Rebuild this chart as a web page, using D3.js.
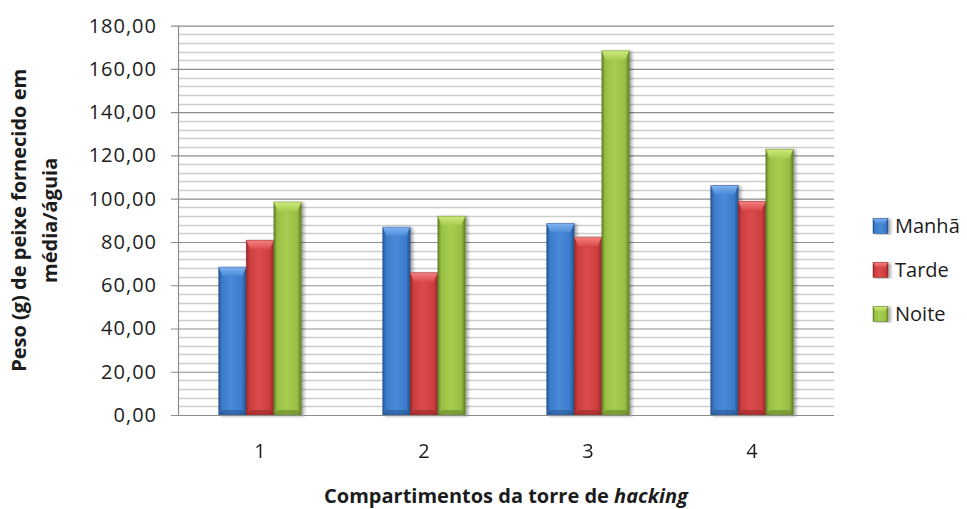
<!DOCTYPE html>
<html><head><meta charset="utf-8">
<script src="https://cdn.jsdelivr.net/npm/d3@7/dist/d3.min.js"></script>
<style>
body{margin:0;background:#fff}
svg{display:block}
text{font-family:"Open Sans",sans-serif;fill:#1c1c1c}
</style>
</head><body>
<svg id="c" width="967" height="509"></svg>
<script>
const categories = ["1", "2", "3", "4"];
const seriesNames = ["Manhã", "Tarde", "Noite"];
const manha = [68.4, 86.9, 88.5, 106.1];
const tarde = [80.8, 65.8, 82.3, 98.8];
const noite = [98.5, 91.9, 168.4, 122.9];
const yTickValues = [0, 20, 40, 60, 80, 100, 120, 140, 160, 180];
const yMinorStep = 4;
const xTitleParts = ["Compartimentos da torre de ", "hacking"];
const yTitleLines = ["Peso (g) de peixe fornecido em", "média/águia"];

const palettes = [
  {main:"#3b7acb", light:"#7fb4f0", dark:"#24528c", mid:"#4a8ad8"},
  {main:"#cd3d3d", light:"#f48282", dark:"#8f2727", mid:"#dc4b4b"},
  {main:"#98bf43", light:"#cdea7c", dark:"#5f7d27", mid:"#a7cd50"}
];
const values = [manha, tarde, noite];

const svg = d3.select("#c");
const L = 178, R = 834, T = 25.7, B = 415;

const fmt = d3.formatLocale({decimal:",", thousands:".", grouping:[3], currency:["",""]}).format(".2f");

const y = d3.scaleLinear().domain([0, 180]).range([B, T]);
const x = d3.scaleBand().domain(categories).range([L, R]).paddingInner(0.496).paddingOuter(0.248);
const x1 = d3.scaleBand().domain(seriesNames).range([0, x.bandwidth()]);

const defs = svg.append("defs");
const f = defs.append("filter").attr("id","sh").attr("x","-20%").attr("y","-5%").attr("width","150%").attr("height","110%");
f.append("feDropShadow").attr("dx",2.5).attr("dy",1).attr("stdDeviation",1.6).attr("flood-color","#000").attr("flood-opacity",0.35);

palettes.forEach((p, i) => {
  const g = defs.append("linearGradient").attr("id","body"+i).attr("x1","0").attr("x2","1").attr("y1","0").attr("y2","0");
  [[0,p.dark],[0.12,p.main],[0.45,p.mid],[0.85,p.main],[1,p.dark]].forEach(s=>g.append("stop").attr("offset",s[0]).attr("stop-color",s[1]));
  const t = defs.append("linearGradient").attr("id","top"+i).attr("x1","0").attr("x2","0").attr("y1","0").attr("y2","1");
  [[0,p.light],[1,p.mid]].forEach(s=>t.append("stop").attr("offset",s[0]).attr("stop-color",s[1]));
});

// minor gridlines
const minor = d3.range(0, 180 + 1e-9, yMinorStep).filter(v => Math.abs(v % 20) > 1e-6);
svg.append("g").selectAll("line").data(minor).join("line")
  .attr("x1", L).attr("x2", R).attr("y1", d => Math.round(y(d))+0.5).attr("y2", d => Math.round(y(d))+0.5)
  .attr("stroke", "#cdcdcd").attr("stroke-width", 1.3);

// y axis with major gridlines
const yAxis = svg.append("g").attr("transform", `translate(${L},0)`)
  .call(d3.axisLeft(y).tickValues(yTickValues).tickFormat(fmt).tickSize(7).tickPadding(14));
yAxis.select(".domain").remove();
yAxis.selectAll(".tick line").attr("stroke", "#8c8c8c").attr("x2", R - L).attr("x1", -7).attr("stroke-width",1.2);
yAxis.selectAll(".tick text").attr("font-size", 20).attr("letter-spacing", 1).attr("fill", "#1c1c1c").attr("font-family","Open Sans");
svg.append("line").attr("x1", L+0.5).attr("x2", L+0.5).attr("y1", T).attr("y2", B).attr("stroke", "#8c8c8c").attr("stroke-width",1.2);

// bars
function bevelBar(g, x0, w, yt, yb, i) {
  const p = palettes[i];
  const x2 = x0 + w, h = yb - yt;
  const b = Math.min(4, w * 0.15), t = Math.min(9, h / 2), bb = Math.min(5, h / 3);
  g.append("rect").attr("x", x0).attr("y", yt).attr("width", w).attr("height", h).attr("fill", `url(#body${i})`);
  g.append("polygon").attr("points", [[x0,yt],[x2,yt],[x2-b,yt+t],[x0+b,yt+t]].join(" ")).attr("fill", `url(#top${i})`);
  g.append("polygon").attr("points", [[x0,yb],[x2,yb],[x2-b,yb-bb],[x0+b,yb-bb]].join(" ")).attr("fill", p.dark).attr("opacity", 0.55);
  g.append("rect").attr("x", x0).attr("y", yt).attr("width", w).attr("height", h).attr("fill", "none").attr("stroke", p.dark).attr("stroke-opacity",0.5).attr("stroke-width",0.8);
}

const barsG = svg.append("g").attr("filter", "url(#sh)");
categories.forEach((c, ci) => {
  seriesNames.forEach((s, si) => {
    const v = values[si][ci];
    bevelBar(barsG, x(c) + x1(s), x1.bandwidth(), y(v), y(0), si);
  });
});

// baseline
svg.append("line").attr("x1", L).attr("x2", R).attr("y1", B+0.5).attr("y2", B+0.5).attr("stroke", "#8c8c8c").attr("stroke-width",1.2);

// x axis labels
const xAxis = svg.append("g").attr("transform", `translate(0,${B})`)
  .call(d3.axisBottom(x).tickSize(0).tickPadding(29));
xAxis.select(".domain").remove();
xAxis.selectAll(".tick text").attr("font-size", 20).attr("fill", "#1c1c1c").attr("font-family","Open Sans");

// x title
const xt = svg.append("text").attr("x", (L + R) / 2).attr("y", 503).attr("text-anchor", "middle")
  .attr("font-size", 20).attr("font-weight", "bold");
xt.append("tspan").text(xTitleParts[0]);
xt.append("tspan").attr("font-style", "italic").text(xTitleParts[1]);

// y title
const yt = svg.append("text").attr("transform", `translate(0,${(T + B) / 2}) rotate(-90)`)
  .attr("text-anchor", "middle").attr("font-size", 20).attr("font-weight", "bold");
yTitleLines.forEach((ln, i) => yt.append("tspan").attr("x", 0).attr("y", 26 + i * 31).text(ln));

// legend
const lg = svg.append("g");
seriesNames.forEach((s, i) => {
  const cy = 226 + i * 44;
  const g = lg.append("g").attr("filter","url(#sh)");
  bevelLegend(g, 873, cy - 7.5, 15, i);
  lg.append("text").attr("x", 895).attr("y", cy).attr("dy", "0.35em").attr("font-size", 20).text(s);
});
function bevelLegend(g, x0, y0, sz, i) {
  const p = palettes[i];
  g.append("rect").attr("x", x0).attr("y", y0).attr("width", sz).attr("height", sz).attr("fill", `url(#body${i})`);
  g.append("polygon").attr("points", [[x0,y0],[x0+sz,y0],[x0+sz-3,y0+5],[x0+3,y0+5]].join(" ")).attr("fill", `url(#top${i})`);
  g.append("rect").attr("x", x0).attr("y", y0).attr("width", sz).attr("height", sz).attr("fill", "none").attr("stroke", p.dark).attr("stroke-opacity",0.6).attr("stroke-width",0.8);
}
</script>
</body></html>
